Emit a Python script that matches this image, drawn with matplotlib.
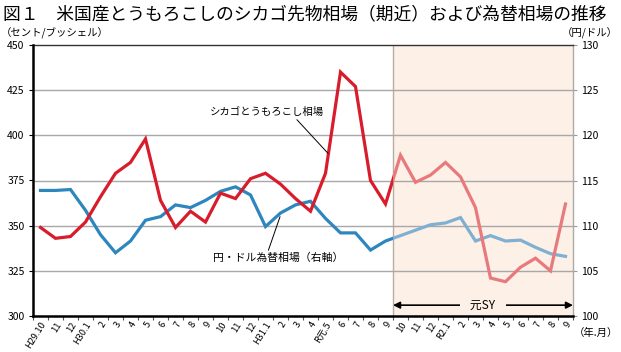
import matplotlib
matplotlib.use("Agg")
from matplotlib import pyplot as plt
from matplotlib import transforms
from matplotlib.patches import Rectangle

plt.rcParams['font.family'] = ['Noto Sans CJK JP', 'DejaVu Sans']

# monthly labels, H29.10 .. R2.9
months = ["H29.10", "11", "12", "H30.1", "2", "3", "4", "5", "6", "7", "8", "9",
          "10", "11", "12", "H31.1", "2", "3", "4", "R元.5", "6", "7", "8", "9",
          "10", "11", "12", "R2.1", "2", "3", "4", "5", "6", "7", "8", "9"]

# chicago corn futures (cents/bushel)
corn = [349, 343, 344, 352, 366, 379, 385, 398, 364, 349, 358, 352,
        368, 365, 376, 379, 373, 365, 358, 379, 435, 427, 375, 362,
        389, 374, 378, 385, 377, 360, 321, 319, 327, 332, 325, 362]

# yen/dollar (right axis)
yen = [113.9, 113.9, 114.0, 111.7, 109.0, 107.0, 108.3, 110.6, 111.0, 112.3, 112.0, 112.8,
       113.8, 114.3, 113.4, 109.9, 111.4, 112.3, 112.7, 110.8, 109.2, 109.2, 107.3, 108.3,
       108.9, 109.5, 110.1, 110.3, 110.9, 108.3, 108.9, 108.3, 108.4, 107.6, 106.9, 106.6]

left_ticks = [300, 325, 350, 375, 400, 425, 450]
right_ticks = [100, 105, 110, 115, 120, 125, 130]
sy_start = 24  # R元.10 -> start of crop year

x = list(range(len(months)))

fig = plt.figure(figsize=(6.21, 3.52), dpi=100)
ax = fig.add_axes([33/621, 1-316/352, 540/621, 271/352])
ax2 = ax.twinx()
ax.set_zorder(ax2.get_zorder() + 1)
ax.patch.set_visible(False)

ax.set_xlim(-0.5, len(months) - 0.5)
ax.set_ylim(300, 450)
ax2.set_ylim(100, 130)

# shading for the current crop year
ax2.axvspan(sy_start - 0.5, len(months) - 0.5, facecolor='#fdf0e7', edgecolor='none', zorder=0)
ax2.axvline(sy_start - 0.5, color='#b8aca4', lw=1, zorder=1)

# grid
for v in right_ticks[1:-1]:
    ax2.axhline(v, color='#a8a8a8', lw=1, zorder=1)

blend = transforms.blended_transform_factory(ax.transData, ax.transAxes)

def split_plot(a, y, dark, light):
    l1, = a.plot(x, y, color=dark, lw=2.3, zorder=3, solid_joinstyle='miter')
    l2, = a.plot(x, y, color=light, lw=2.3, zorder=3, solid_joinstyle='miter')
    r1 = Rectangle((-0.5, -0.1), sy_start, 1.2, transform=blend)
    r2 = Rectangle((sy_start - 0.5, -0.1), len(months) - sy_start, 1.2, transform=blend)
    l1.set_clip_path(r1)
    l2.set_clip_path(r2)

split_plot(ax2, yen, '#2d86bd', '#7fb0d2')
split_plot(ax, corn, '#d81c2c', '#e8797c')

# ticks
ax.set_yticks(left_ticks)
ax2.set_yticks(right_ticks)
ax.set_xticks([i - 0.5 for i in x] + [len(months) - 0.5], minor=False)
ax.set_xticklabels([])
ax.set_xticks(x, minor=True)
ax.set_xticklabels(months, minor=True, rotation=58, ha='right', rotation_mode='anchor', fontsize=6.7)
ax.tick_params(axis='x', which='major', length=3, width=0.8, color='#555555')
ax.tick_params(axis='x', which='minor', length=0, pad=3)
ax.tick_params(axis='y', length=3, width=0.8, labelsize=7.5, pad=3)
ax2.tick_params(axis='y', length=3, width=0.8, labelsize=7.5, pad=3, color='#999999')

for s in ['top', 'right']:
    ax.spines[s].set_visible(False)
ax.spines['left'].set_linewidth(1.8)
ax.spines['bottom'].set_linewidth(1.8)
ax2.spines['left'].set_visible(False)
ax2.spines['bottom'].set_visible(False)
ax2.spines['top'].set_color('#333333')
ax2.spines['top'].set_linewidth(1)
ax2.spines['right'].set_color('#aaaaaa')
ax2.spines['right'].set_linewidth(1)

# titles and units
fig.text(0.005, 0.985, "図１　米国産とうもろこしのシカゴ先物相場（期近）および為替相場の推移",
         fontsize=12.8, va='top', ha='left')
fig.text(0.002, 0.905, "（セント/ブッシェル）", fontsize=7.5, va='center', ha='left')
fig.text(0.995, 0.905, "（円/ドル）", fontsize=7.5, va='center', ha='right')
fig.text(0.996, 1-333/352, "（年.月）", fontsize=7.5, va='center', ha='right')

# annotations
ax.annotate("シカゴとうもろこし相場", xy=(19.17, 390), xytext=(18.9, 413),
            fontsize=7.5, ha='right', va='center',
            arrowprops=dict(arrowstyle='-', color='black', lw=0.7, shrinkA=0, shrinkB=0,
                            relpos=(0.74, 0)))
ax2.annotate("円・ドル為替相場（右軸）", xy=(15.97, 111.0), xytext=(20.17, 106.4),
             fontsize=7.8, ha='right', va='center',
             arrowprops=dict(arrowstyle='-', color='black', lw=0.7, shrinkA=0, shrinkB=0,
                             relpos=(0.42, 1)))

# crop year arrow
ax.annotate("", xy=(sy_start - 0.5, 306), xytext=(len(months) - 0.5, 306), zorder=3,
            arrowprops=dict(arrowstyle='<|-|>', color='black', lw=1.2, mutation_scale=10,
                            shrinkA=0, shrinkB=0))
ax.text((sy_start - 0.5 + len(months) - 0.5) / 2, 306, "   元SY   ", fontsize=8.5,
        ha='center', va='center', zorder=5,
        bbox=dict(facecolor='#fdf0e7', edgecolor='none', pad=1.5))

fig.savefig("out.png", dpi=100)
